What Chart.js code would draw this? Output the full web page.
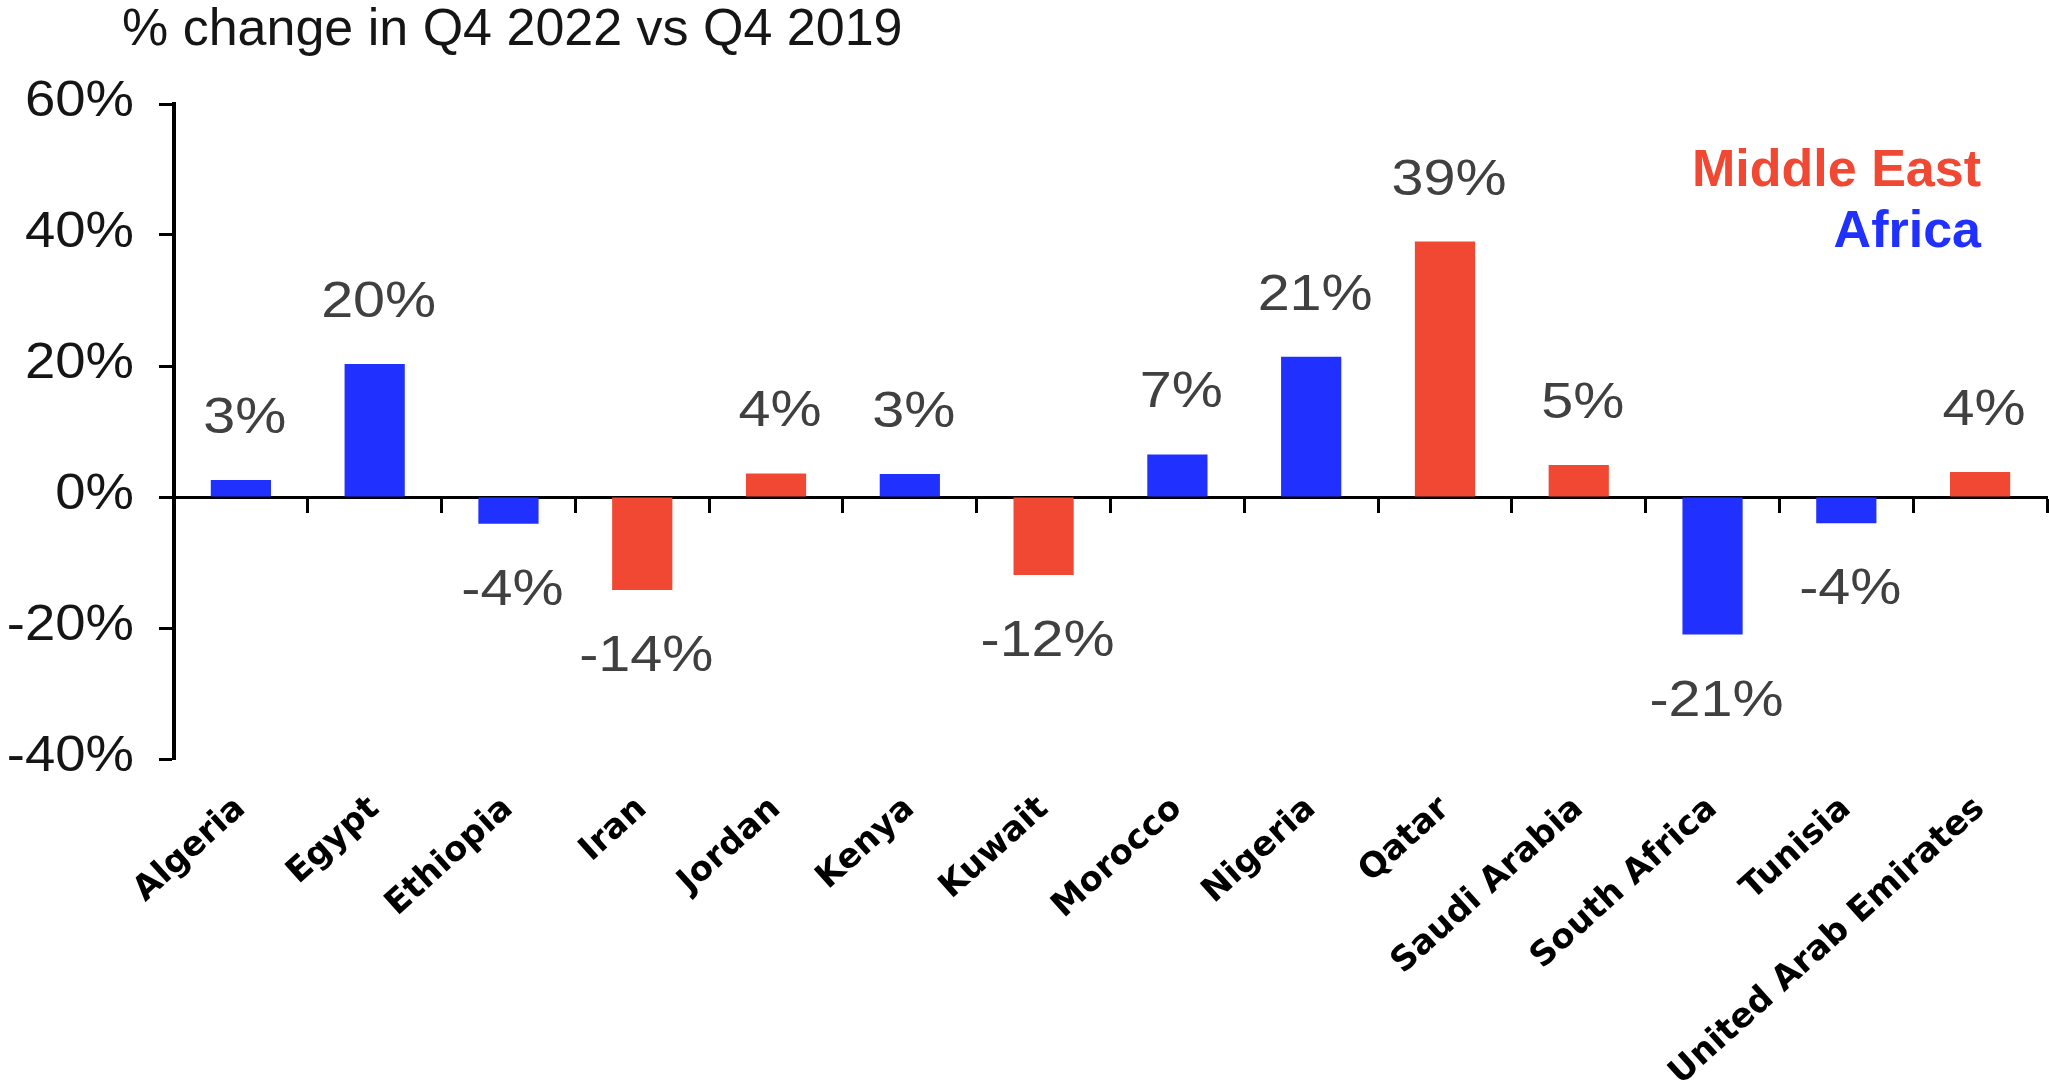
<!DOCTYPE html>
<html>
<head>
<meta charset="utf-8">
<script src="https://cdn.jsdelivr.net/npm/chart.js@4.4.1/dist/chart.umd.min.js"></script>
<style>
html,body{margin:0;padding:0;background:#fff;}
#wrap{width:2049px;height:1081px;}
canvas{display:block;}
</style>
</head>
<body>
<div id="wrap"><canvas id="c" width="2049" height="1081"></canvas></div>
<script>
const categories = ['Algeria','Egypt','Ethiopia','Iran','Jordan','Kenya','Kuwait','Morocco','Nigeria','Qatar','Saudi Arabia','South Africa','Tunisia','United Arab Emirates'];
const regions = ['Africa','Africa','Africa','Middle East','Middle East','Africa','Middle East','Africa','Africa','Middle East','Middle East','Africa','Africa','Middle East'];
const changeValues = [2.6, 20.3, -4.1, -14.2, 3.6, 3.5, -11.9, 6.5, 21.4, 39.0, 4.9, -21.0, -4.0, 3.8];
const valueLabels = ['3%','20%','-4%','-14%','4%','3%','-12%','7%','21%','39%','5%','-21%','-4%','4%'];
const yTicks = [-40, -20, 0, 20, 40, 60];
const titleText = '% change in Q4 2022 vs Q4 2019';
const legendItems = ['Middle East', 'Africa'];
const regionColors = {'Middle East': '#F04832', 'Africa': '#2030FF'};

function stretchedText(ctx, text, x, y, sx, align) {
  ctx.save();
  ctx.translate(x, y);
  ctx.scale(sx, 1);
  ctx.textAlign = align;
  ctx.textBaseline = 'alphabetic';
  ctx.fillText(text, 0, 0);
  ctx.restore();
}

const annotations = {
  id: 'annotations',
  afterDraw(chart) {
    const ctx = chart.ctx;
    const area = chart.chartArea;
    const ys = chart.scales.y;
    // title
    ctx.save();
    ctx.fillStyle = '#151515';
    ctx.font = '52px "Liberation Sans", Arial, sans-serif';
    ctx.textAlign = 'left';
    ctx.textBaseline = 'alphabetic';
    ctx.fillText(titleText, area.left - 52, area.top - 59);
    // y tick labels
    ctx.font = '50px "Liberation Sans", Arial, sans-serif';
    ctx.fillStyle = '#151515';
    ys.ticks.forEach(t => {
      const y = ys.getPixelForValue(t.value);
      stretchedText(ctx, t.value + '%', ys.right - 40, y + 12, 1.09, 'right');
    });
    // data labels
    ctx.fillStyle = '#404040';
    ctx.font = '50px "Liberation Sans", Arial, sans-serif';
    const meta = chart.getDatasetMeta(0);
    meta.data.forEach((el, i) => {
      const v = changeValues[i];
      const y = v >= 0 ? el.y - 47 : el.y + 81;
      stretchedText(ctx, valueLabels[i], el.x + 4, y, 1.15, 'center');
    });
    // legend
    ctx.font = 'bold 52px "Liberation Sans", Arial, sans-serif';
    legendItems.forEach((name, i) => {
      ctx.fillStyle = regionColors[name];
      ctx.textAlign = 'right';
      ctx.fillText(name, area.right - 66, area.top + 82 + i * 61);
    });
    ctx.restore();
  }
};

new Chart(document.getElementById('c'), {
  type: 'bar',
  data: {
    labels: categories,
    datasets: [{
      data: changeValues,
      backgroundColor: regions.map(r => regionColors[r]),
      barPercentage: 0.45,
      categoryPercentage: 1,
      xAxisID: 'x',
      yAxisID: 'y'
    }]
  },
  options: {
    responsive: false,
    animation: false,
    devicePixelRatio: 1,
    layout: {padding: {top: 104, right: 2, left: 0, bottom: 0}},
    plugins: {legend: {display: false}, tooltip: {enabled: false}, title: {display: false}},
    scales: {
      x: {
        type: 'category',
        position: {y: 0},
        offset: true,
        grid: {offset: true, drawOnChartArea: false, drawTicks: true, tickLength: 14, tickWidth: 3, tickColor: '#000'},
        border: {display: true, color: '#000', width: 3},
        ticks: {display: false}
      },
      x2: {
        type: 'category',
        position: 'bottom',
        offset: true,
        grid: {display: false, drawTicks: false},
        border: {display: false},
        ticks: {autoSkip: false, minRotation: 42, maxRotation: 42, padding: 30, color: '#000',
          font: {family: 'DejaVu Sans', weight: 'bold', size: 34}},
        afterFit(s) { s.height = 322; }
      },
      y: {
        type: 'linear',
        position: 'left',
        min: -40,
        max: 60,
        afterBuildTicks(s) { s.ticks = yTicks.map(v => ({value: v})); },
        grid: {drawOnChartArea: false, drawTicks: true, tickLength: 15, tickWidth: 3, tickColor: '#000'},
        border: {display: true, color: '#000', width: 4},
        ticks: {display: false},
        afterFit(s) { s.width = 174; }
      }
    }
  },
  plugins: [annotations]
});
</script>
</body>
</html>
